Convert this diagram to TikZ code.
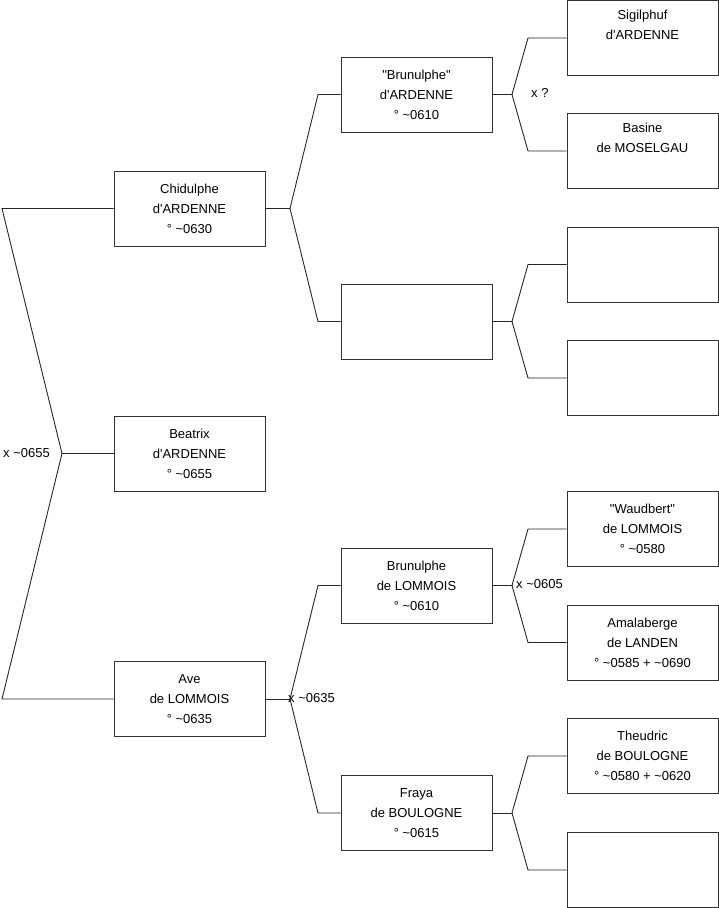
\documentclass[tikz,border=0pt]{standalone}
\usepackage{fontspec}
\setmainfont{Liberation Sans}[Ligatures=NoCommon]
\newcommand{\aq}{\textquotesingle}
\newcommand{\dq}{\textquotedbl}
\begin{document}
\begin{tikzpicture}[x=1pt,y=-1pt,
  person/.style={draw=black!80, line width=0.9pt, minimum width=151pt, minimum height=75pt,
    inner sep=0pt, align=center, font=\fontsize{13}{20}\selectfont},
  link/.style={draw=black!85, line width=0.9pt},
  lbl/.style={anchor=west, inner sep=0pt, font=\fontsize{13}{16}\selectfont}]
\useasboundingbox (0,0) rectangle (719,908);
% column 1
\node[person] (chid) at (189.5,208.5) {Chidulphe\\d\aq ARDENNE\\° \textasciitilde0630};
\node[person] (beat) at (189.5,453.5) {Beatrix\\d\aq ARDENNE\\° \textasciitilde0655};
\node[person] (ave)  at (189.5,699)   {Ave\\de LOMMOIS\\° \textasciitilde0635};
% column 2
\node[person] (bra)  at (416.5,94.5)  {\dq Brunulphe\dq\\d\aq ARDENNE\\° \textasciitilde0610};
\node[person] (e2)   at (416.5,321.5) {};
\node[person] (brl)  at (416.5,585.5) {Brunulphe\\de LOMMOIS\\° \textasciitilde0610};
\node[person] (fra)  at (416.5,813)   {Fraya\\de BOULOGNE\\° \textasciitilde0615};
% column 3
\node[person] (sig)  at (642.5,38)    {Sigilphuf\\d\aq ARDENNE\\\strut};
\node[person] (bas)  at (642.5,151)   {Basine\\de MOSELGAU\\\strut};
\node[person] (e3a)  at (642.5,264.5) {};
\node[person] (e3b)  at (642.5,378)   {};
\node[person] (wau)  at (642.5,529)   {\dq Waudbert\dq\\de LOMMOIS\\° \textasciitilde0580};
\node[person] (ama)  at (642.5,642.5) {Amalaberge\\de LANDEN\\° \textasciitilde0585 + \textasciitilde0690};
\node[person] (the)  at (642.5,756)   {Theudric\\de BOULOGNE\\° \textasciitilde0580 + \textasciitilde0620};
\node[person] (e3c)  at (642.5,870)   {};
% fork points
\coordinate (f0) at (62,453.5);
\coordinate (f0a) at (2,208.5);
\coordinate (f0b) at (2,699);
\coordinate (f1) at (290,208.5);
\coordinate (f1a) at (318,94.5);
\coordinate (f1b) at (318,321.5);
\coordinate (f2) at (512,94.5);
\coordinate (f2a) at (528,38);
\coordinate (f2b) at (528,151);
\coordinate (f3) at (512,321.5);
\coordinate (f3a) at (528,264.5);
\coordinate (f3b) at (528,378);
\coordinate (f4) at (290,699);
\coordinate (f4a) at (318,585.5);
\coordinate (f4b) at (318,813);
\coordinate (f5) at (512,585.5);
\coordinate (f5a) at (528,529);
\coordinate (f5b) at (528,642.5);
\coordinate (f6) at (512,813);
\coordinate (f6a) at (528,756);
\coordinate (f6b) at (528,870);
% connectors
\draw[link] (beat.west) -- (f0);
\draw[link] (chid.west) -- (f0a) -- (f0) -- (f0b) -- (ave.west);
\draw[link] (chid.east) -- (f1);
\draw[link] (bra.west) -- (f1a) -- (f1) -- (f1b) -- (e2.west);
\draw[link] (bra.east) -- (f2);
\draw[link] (sig.west) -- (f2a) -- (f2) -- (f2b) -- (bas.west);
\draw[link] (e2.east) -- (f3);
\draw[link] (e3a.west) -- (f3a) -- (f3) -- (f3b) -- (e3b.west);
\draw[link] (ave.east) -- (f4);
\draw[link] (brl.west) -- (f4a) -- (f4) -- (f4b) -- (fra.west);
\draw[link] (brl.east) -- (f5);
\draw[link] (wau.west) -- (f5a) -- (f5) -- (f5b) -- (ama.west);
\draw[link] (fra.east) -- (f6);
\draw[link] (the.west) -- (f6a) -- (f6) -- (f6b) -- (e3c.west);
% labels
\node[lbl] (l0) at (3,453) {x \textasciitilde0655};
\node[lbl] (l2) at (531,93) {x ?};
\node[lbl] (l4) at (288,698) {x \textasciitilde0635};
\node[lbl] (l5) at (516,584) {x \textasciitilde0605};
\end{tikzpicture}
\end{document}
